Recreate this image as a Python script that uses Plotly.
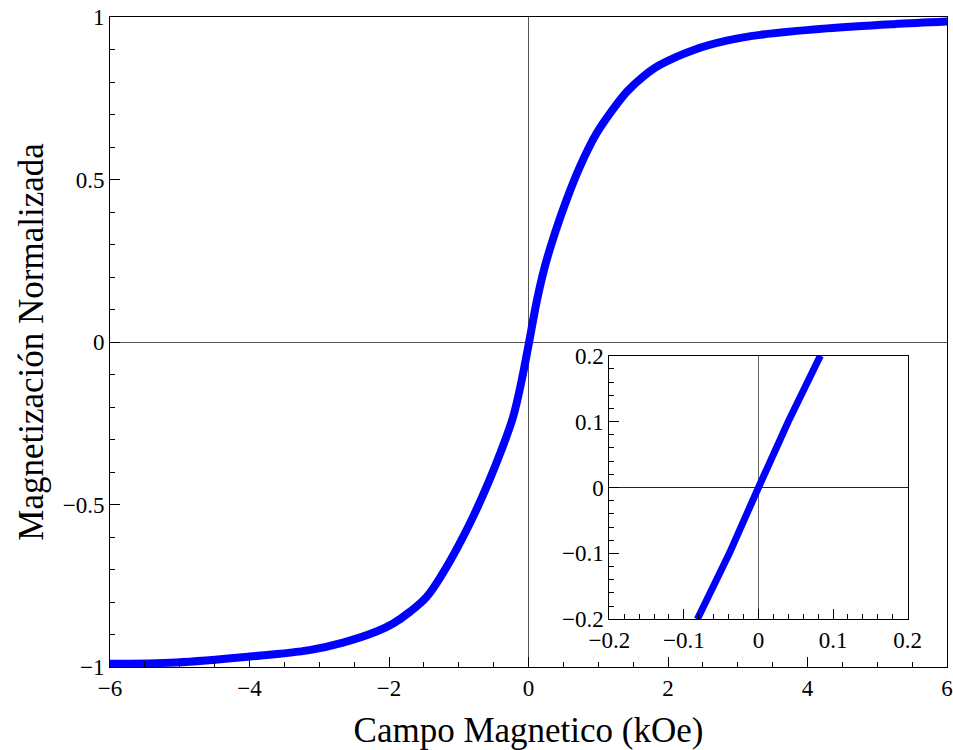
import plotly.graph_objects as go

# Main curve: magnetic field (kOe) vs normalized magnetization
H_main = [-6.0, -5.05, -4.0, -3.14, -2.66, -2.18, -1.94, -1.70, -1.46, -1.23, -1.0,
          -0.795, -0.58, -0.387, -0.22, -0.10, 0.009, 0.115, 0.234, 0.377, 0.545, 0.736,
          0.976, 1.17, 1.41, 1.64, 1.88, 2.36, 2.84, 3.32, 4.28, 5.23, 6.0]
M_main = [-0.990, -0.986, -0.968, -0.948, -0.925, -0.891, -0.866, -0.830, -0.784, -0.712, -0.625,
          -0.538, -0.435, -0.332, -0.230, -0.120, 0.0, 0.122, 0.232, 0.334, 0.437,
          0.539, 0.642, 0.704, 0.770, 0.816, 0.852, 0.898, 0.927, 0.945, 0.965, 0.978, 0.986]

# Inset (zoom around origin)
H_inset = [-0.082, -0.039, 0.0, 0.040, 0.083]
M_inset = [-0.2, -0.1, 0.0, 0.1, 0.2]

x_title = "Campo Magnetico (kOe)"
y_title = "Magnetización Normalizada"

FONT = "Liberation Serif, Times New Roman, serif"
BLUE = "#0000ff"

fig = go.Figure()
fig.add_trace(go.Scatter(x=H_main, y=M_main, mode="lines",
                         line=dict(color=BLUE, width=8, shape="spline", smoothing=1.0),
                         xaxis="x", yaxis="y", showlegend=False, hoverinfo="skip"))
fig.add_trace(go.Scatter(x=H_inset, y=M_inset, mode="lines", line=dict(color=BLUE, width=7),
                         xaxis="x2", yaxis="y2", showlegend=False, hoverinfo="skip"))

common = dict(showgrid=False, showline=True, linecolor="black", linewidth=1, mirror=True,
              ticks="inside", tickcolor="black", tickwidth=1, automargin=False,
              tickfont=dict(family=FONT, size=23, color="black"))

fig.update_layout(
    width=953, height=750,
    margin=dict(l=110, r=6, t=17, b=83, autoexpand=False),
    paper_bgcolor="white", plot_bgcolor="white",
    font=dict(family=FONT, color="black"),
    xaxis=dict(range=[-6, 6], tick0=-6, dtick=2, ticklen=10,
               minor=dict(dtick=0.5, ticklen=5, ticks="inside", tickcolor="black", showgrid=False),
               zeroline=True, zerolinecolor="#555555", zerolinewidth=1,
               title=dict(text=x_title, font=dict(family=FONT, size=35), standoff=20),
               **common),
    yaxis=dict(range=[-1, 1], tick0=-1, dtick=0.5, ticklen=10,
               minor=dict(dtick=0.1, ticklen=5, ticks="inside", tickcolor="black", showgrid=False),
               zeroline=True, zerolinecolor="#555555", zerolinewidth=1,
               title=dict(text=y_title, font=dict(family=FONT, size=35), standoff=8),
               **common),
    xaxis2=dict(domain=[0.5965, 0.953], anchor="y2", range=[-0.2, 0.2], tick0=-0.2, dtick=0.1, ticklen=10,
                minor=dict(dtick=0.02, ticklen=5, ticks="inside", tickcolor="black", showgrid=False),
                zeroline=True, zerolinecolor="#666666", zerolinewidth=1,
                **common),
    yaxis2=dict(domain=[0.0734, 0.479], anchor="x2", range=[-0.2, 0.2], tick0=-0.2, dtick=0.1, ticklen=10,
                minor=dict(dtick=0.02, ticklen=5, ticks="inside", tickcolor="black", showgrid=False),
                zeroline=True, zerolinecolor="#222222", zerolinewidth=1,
                **common),
)

fig.write_html("out.html", config={"displayModeBar": False},
               post_script="document.body.style.margin='0px';document.body.style.overflow='hidden';")
